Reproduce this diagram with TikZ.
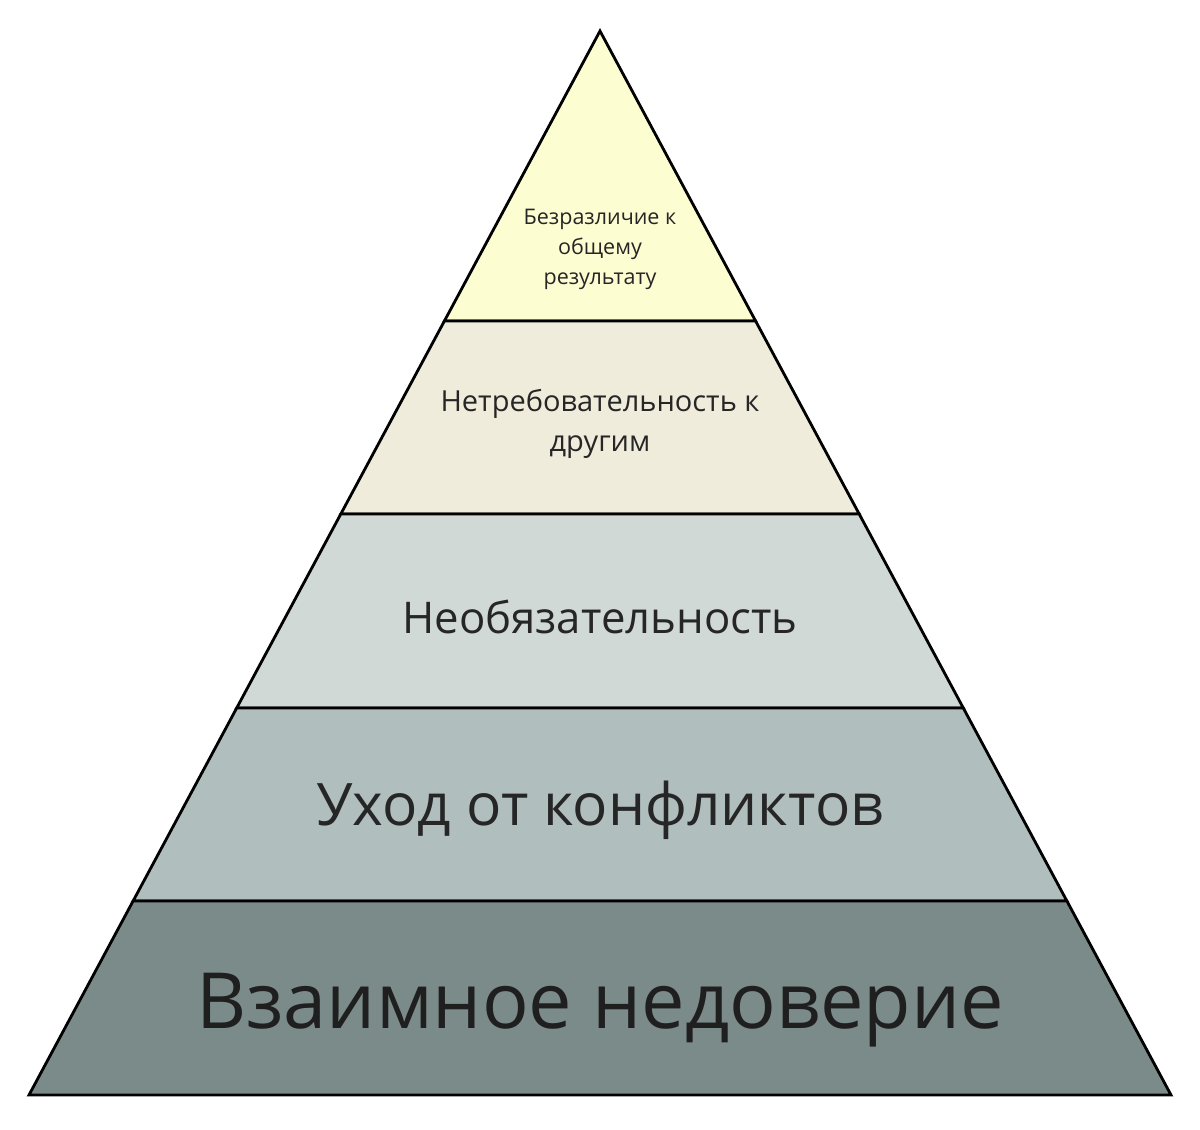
\documentclass[tikz,border=0pt]{standalone}
\usepackage{fontspec}
\setmainfont{Open Sans}
\usepackage{xcolor}
\usepackage{tikz}
\usetikzlibrary{positioning}

\definecolor{tierTop}{RGB}{253,253,210}
\definecolor{tierTwo}{RGB}{240,236,220}
\definecolor{tierThree}{RGB}{208,217,213}
\definecolor{tierFour}{RGB}{176,191,190}
\definecolor{tierBase}{RGB}{122,139,137}
\definecolor{tierText}{RGB}{38,38,38}

\begin{document}
\begin{tikzpicture}[x=1pt,y=1pt,yscale=-1,xscale=1,
  tier/.style={draw=black,line width=2.8pt,line join=miter},
  tierlabel/.style={inner sep=0pt,align=center,text=tierText}]
\useasboundingbox (0,0) rectangle (1200,1130);

%Shape: Triangle (top)
\draw [tier,fill=tierTop] (600,31) -- (755.6,321) -- (444.4,321) -- cycle ;
%Shape: Trapezoid
\draw [tier,fill=tierTwo] (444.4,321) -- (755.6,321) -- (859.2,514) -- (340.8,514) -- cycle ;
%Shape: Trapezoid
\draw [tier,fill=tierThree] (340.8,514) -- (859.2,514) -- (963.3,708) -- (236.7,708) -- cycle ;
%Shape: Trapezoid
\draw [tier,fill=tierFour] (236.7,708) -- (963.3,708) -- (1066.9,901) -- (133.1,901) -- cycle ;
%Shape: Trapezoid (base)
\draw [tier,fill=tierBase] (133.1,901) -- (1066.9,901) -- (1171,1095) -- (29,1095) -- cycle ;

% Text Node
\node (indifference) [tierlabel,font=\fontsize{21.5}{30}\selectfont] at (600,249) {Безразличие к\\общему\\результату};
% Text Node
\node (lowstandards) [tierlabel,font=\fontsize{29}{40}\selectfont] at (600,424) {Нетребовательность к\\другим};
% Text Node
\node (commitment) [tierlabel,anchor=base,font=\fontsize{43.7}{50}\selectfont] at (600,633) {Необязательность};
% Text Node
\node (conflict) [tierlabel,anchor=base,font=\fontsize{58.6}{70}\selectfont] at (600,825) {Уход от конфликтов};
% Text Node
\node (trust) [tierlabel,anchor=base,font=\fontsize{77.5}{90}\selectfont,text=black!88] at (600,1028) {Взаимное недоверие};
\end{tikzpicture}
\end{document}
